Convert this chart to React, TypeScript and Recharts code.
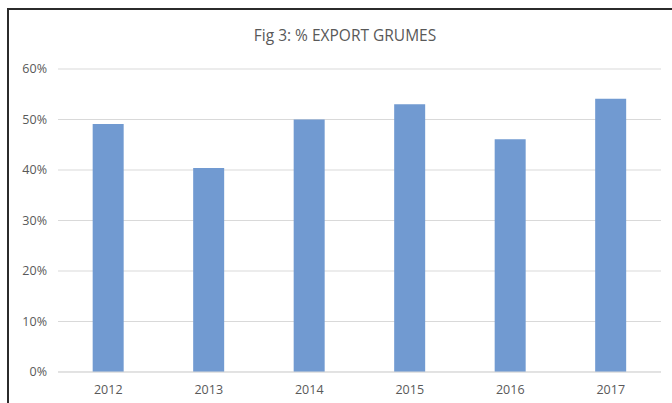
import React from "react";
import { BarChart, Bar, XAxis, YAxis, CartesianGrid } from "recharts";

const years = ["2012", "2013", "2014", "2015", "2016", "2017"];
const exportShare = [0.491, 0.404, 0.5, 0.53, 0.461, 0.541];
const yTicks = [0, 0.1, 0.2, 0.3, 0.4, 0.5, 0.6];

const data = years.map((y, i) => ({ year: y, value: exportShare[i] }));

const FONT = "'Open Sans', 'Liberation Sans', sans-serif";
const GRAY = "#595959";

export default function App() {
  return (
    <div style={{ position: "absolute", left: 0, top: 0, width: 672, height: 403, background: "#fff", overflow: "hidden" }}>
      <div style={{ position: "absolute", left: 7, top: 8, width: 700, height: 420, borderLeft: "2px solid #2b2b2b", borderTop: "2px solid #2b2b2b" }} />
      <div style={{ position: "absolute", left: 0, top: 24, width: 690, textAlign: "center", fontFamily: FONT, fontSize: 15.5, color: GRAY }}>
        Fig 3: % EXPORT GRUMES
      </div>
      <div style={{ position: "absolute", left: 0, top: 0 }}>
        <BarChart width={672} height={403} data={data} margin={{ top: 69, right: 11, bottom: 0, left: 0 }} barCategoryGap="34.5%">
          <CartesianGrid vertical={false} stroke="#d9d9d9" />
          <XAxis
            dataKey="year"
            height={31}
            axisLine={{ stroke: "#d9d9d9" }}
            tickLine={false}
            tickSize={0}
            tickMargin={13}
            tick={{ fill: GRAY, fontSize: 12.5, fontFamily: FONT }}
          />
          <YAxis
            width={58}
            domain={[0, 0.6]}
            ticks={yTicks}
            axisLine={false}
            tickLine={false}
            tickSize={0}
            tickMargin={11}
            tickFormatter={(v: number) => `${Math.round(v * 100)}%`}
            tick={{ fill: GRAY, fontSize: 12.5, fontFamily: FONT }}
          />
          <Bar dataKey="value" fill="#719ad1" isAnimationActive={false} />
        </BarChart>
      </div>
    </div>
  );
}
